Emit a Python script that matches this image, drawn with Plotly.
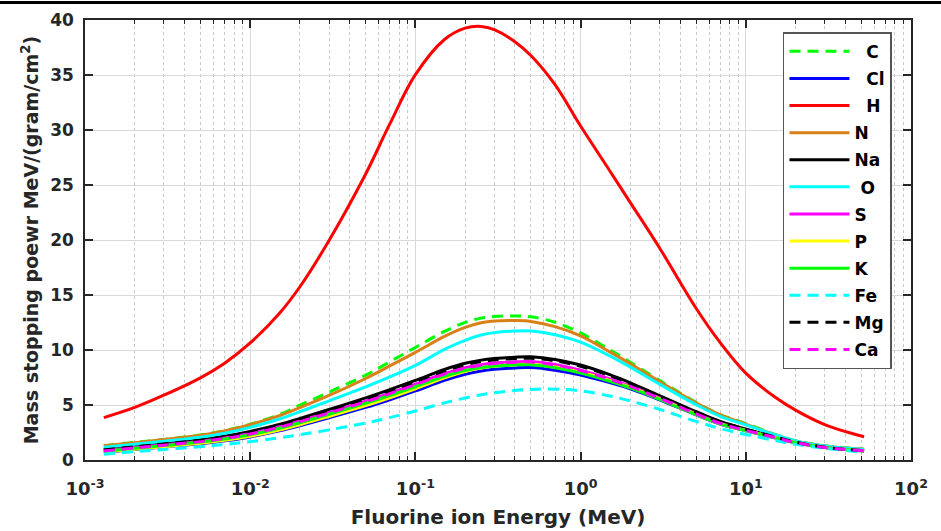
import plotly.graph_objects as go

# Fluorine ion energy (MeV)
energy = [0.0013, 0.002, 0.003, 0.005, 0.007, 0.01, 0.015, 0.02, 0.03, 0.05, 0.07, 0.1,
          0.15, 0.2, 0.25, 0.3, 0.4, 0.5, 0.7, 1, 1.5, 2, 3, 5, 7, 10, 15, 20, 30, 52]

C = [1.3, 1.6, 1.87, 2.28, 2.67, 3.25, 4.12, 4.98, 6.17, 7.71, 8.93, 10.23, 11.69, 12.51, 12.9, 13.04,
     13.1, 13.02, 12.52, 11.55, 10.03, 8.89, 7.24, 5.24, 4.13, 3.31, 2.33, 1.75, 1.3, 0.97]
Cl = [0.7, 0.96, 1.18, 1.48, 1.74, 2.1, 2.65, 3.12, 3.84, 4.78, 5.48, 6.28, 7.24, 7.8, 8.1, 8.25,
      8.37, 8.4, 8.16, 7.72, 7.03, 6.46, 5.47, 4.1, 3.27, 2.65, 2.02, 1.56, 1.13, 0.82]
H = [3.85, 4.78, 5.89, 7.47, 8.8, 10.64, 13.32, 15.75, 19.95, 26.0, 30.55, 35.03, 38.23, 39.26, 39.42, 39.12,
     38.03, 36.77, 34.12, 30.36, 26.3, 23.4, 19.3, 13.8, 10.67, 7.9, 5.72, 4.53, 3.22, 2.11]
N = [1.3, 1.58, 1.86, 2.26, 2.65, 3.21, 4.02, 4.76, 5.87, 7.41, 8.55, 9.78, 11.24, 12.06, 12.48, 12.64,
     12.68, 12.6, 12.12, 11.28, 9.83, 8.74, 7.14, 5.19, 4.1, 3.26, 2.3, 1.72, 1.28, 0.97]
Na = [0.95, 1.24, 1.5, 1.85, 2.16, 2.6, 3.24, 3.78, 4.59, 5.65, 6.4, 7.24, 8.23, 8.79, 9.08, 9.22,
      9.35, 9.38, 9.14, 8.63, 7.76, 7.02, 5.86, 4.39, 3.5, 2.81, 2.11, 1.64, 1.17, 0.85]
O = [1.15, 1.43, 1.7, 2.07, 2.43, 2.97, 3.73, 4.39, 5.38, 6.65, 7.55, 8.6, 10.06, 10.88, 11.36, 11.58,
     11.72, 11.73, 11.39, 10.72, 9.47, 8.44, 6.9, 5.03, 3.97, 3.2, 2.3, 1.74, 1.27, 0.95]
S = [0.85, 1.13, 1.38, 1.71, 2.0, 2.41, 3.02, 3.54, 4.33, 5.35, 6.08, 6.9, 7.86, 8.4, 8.67, 8.81,
     8.93, 8.95, 8.68, 8.17, 7.38, 6.72, 5.64, 4.21, 3.34, 2.7, 2.06, 1.59, 1.15, 0.83]
P = [0.72, 0.98, 1.21, 1.52, 1.79, 2.16, 2.73, 3.21, 3.96, 4.94, 5.66, 6.48, 7.46, 8.05, 8.36, 8.52,
     8.66, 8.7, 8.45, 7.97, 7.24, 6.62, 5.57, 4.16, 3.31, 2.68, 2.04, 1.57, 1.14, 0.82]
K = [0.8, 1.07, 1.31, 1.63, 1.91, 2.3, 2.89, 3.39, 4.16, 5.15, 5.86, 6.66, 7.6, 8.13, 8.4, 8.54,
     8.64, 8.65, 8.38, 7.9, 7.16, 6.55, 5.52, 4.13, 3.29, 2.67, 2.03, 1.57, 1.14, 0.82]
Fe = [0.52, 0.76, 0.96, 1.21, 1.41, 1.67, 2.02, 2.3, 2.74, 3.36, 3.85, 4.46, 5.19, 5.64, 5.93, 6.11,
      6.32, 6.42, 6.44, 6.29, 5.82, 5.37, 4.61, 3.51, 2.86, 2.32, 1.77, 1.42, 1.07, 0.7]
Mg = [0.92, 1.2, 1.46, 1.8, 2.1, 2.53, 3.15, 3.69, 4.49, 5.54, 6.28, 7.11, 8.1, 8.66, 8.95, 9.09,
      9.22, 9.25, 9.02, 8.52, 7.67, 6.94, 5.8, 4.35, 3.47, 2.79, 2.1, 1.63, 1.16, 0.84]
Ca = [0.82, 1.1, 1.35, 1.67, 1.96, 2.37, 2.97, 3.49, 4.28, 5.3, 6.03, 6.85, 7.81, 8.35, 8.62, 8.77,
      8.89, 8.91, 8.64, 8.13, 7.35, 6.69, 5.62, 4.19, 3.33, 2.69, 2.05, 1.58, 1.14, 0.83]

names = ["\u00a0\u00a0C", "\u00a0\u00a0Cl", "\u00a0\u00a0H", "N", "Na", "\u00a0O",
         "S", "P", "K", "Fe", "Mg", "Ca"]
series = [C, Cl, H, N, Na, O, S, P, K, Fe, Mg, Ca]
colors = ["#00ff00", "#0000ff", "#ff0000", "#d98019", "#000000", "#00ffff",
          "#ff00ff", "#ffff00", "#00ff00", "#00ffff", "#000000", "#ff00ff"]
dashes = ["11px,7px", "solid", "solid", "solid", "solid", "solid",
          "solid", "solid", "solid", "11px,7px", "11px,7px", "11px,7px"]

xtick_vals = [1e-3, 1e-2, 1e-1, 1e0, 1e1, 1e2]
xtick_text = ["10<sup>-3</sup>", "10<sup>-2</sup>", "10<sup>-1</sup>",
              "10<sup>0</sup>", "10<sup>1</sup>", "10<sup>2</sup>"]

fig = go.Figure()
for i, (nm, ys, col, ds) in enumerate(zip(names, series, colors, dashes)):
    fig.add_trace(go.Scatter(
        x=energy, y=ys, mode="lines", name=nm, legendgroup=f"g{i}",
        line=dict(color=col, width=3, dash=ds, shape="spline", smoothing=1.0),
    ))

axis_color = "#262626"
font_fam = "DejaVu Sans, Verdana, sans-serif"

fig.update_layout(
    width=941, height=531,
    margin=dict(l=85, r=30, t=20, b=71),
    paper_bgcolor="white", plot_bgcolor="white",
    font=dict(family=font_fam, size=16, color=axis_color, weight="bold"),
    showlegend=True,
    legend=dict(
        x=0.845, y=0.972, xanchor="left", yanchor="top",
        bgcolor="white", bordercolor="#555555", borderwidth=1.5,
        font=dict(family=font_fam, size=17, color="#000000", weight="bold"),
        itemwidth=60, tracegroupgap=2,
    ),
    xaxis=dict(
        type="log", range=[-3, 2], automargin=False,
        tickvals=xtick_vals, ticktext=xtick_text,
        ticks="inside", ticklen=8, tickwidth=1.5, tickcolor=axis_color,
        showline=True, linecolor=axis_color, linewidth=1.5, mirror="ticks",
        showgrid=True, gridcolor="#d9d9d9", gridwidth=1,
        zeroline=False,
        tickfont=dict(family=font_fam, size=18, color=axis_color, weight="bold"),
        ticklabelstandoff=12,
        minor=dict(dtick="D1", ticks="inside", ticklen=4, tickcolor=axis_color, tickwidth=1,
                   showgrid=True, gridcolor="#c8c8c8", griddash="dot", gridwidth=1),
        title=dict(text="Fluorine ion Energy (MeV)", standoff=12,
                   font=dict(family=font_fam, size=20, color=axis_color, weight="bold")),
    ),
    yaxis=dict(
        range=[0, 40], dtick=5, automargin=False,
        ticks="inside", ticklen=8, tickwidth=1.5, tickcolor=axis_color,
        showline=True, linecolor=axis_color, linewidth=1.5, mirror="ticks",
        showgrid=True, gridcolor="#d9d9d9", gridwidth=1,
        zeroline=False,
        tickfont=dict(family=font_fam, size=17, color=axis_color, weight="bold"),
        ticklabelstandoff=6,
        title=dict(text="Mass stopping poewr MeV/(gram/cm<sup>2</sup>)", standoff=7,
                   font=dict(family=font_fam, size=19, color=axis_color, weight="bold")),
    ),
    shapes=[dict(type="line", xref="paper", yref="paper", x0=-0.11, x1=1.04,
                 y0=1.0398, y1=1.0398, line=dict(color="#000000", width=3))],
)

fig.write_html("out.html")
